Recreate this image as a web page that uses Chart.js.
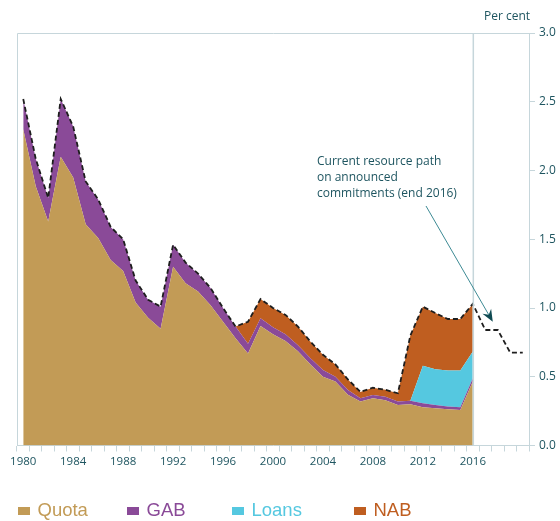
<!DOCTYPE html>
<html>
<head>
<meta charset="utf-8">
<script src="https://cdn.jsdelivr.net/npm/chart.js@4/dist/chart.umd.min.js"></script>
<style>
  body { margin: 0; background: #fff; }
  #wrap { position: relative; width: 560px; height: 521px; overflow: hidden; }
  #legend { position: absolute; left: 0; top: 498px; width: 560px; height: 23px;
            font-family: "Liberation Sans", Arial, sans-serif; font-size: 18.5px; }
  .item { position: absolute; top: 0; height: 23px; line-height: 23px; white-space: nowrap; }
  .box { position: absolute; left: 0; top: 9px; width: 12px; height: 8px; }
  .lbl { position: absolute; left: 19.5px; top: 0; }
</style>
</head>
<body>
<div id="wrap">
  <canvas id="resourceChart" width="560" height="521"></canvas>
  <div id="legend"></div>
</div>
<script>
// Years on the axis (the last four only carry the projected path)
const years = Array.from({ length: 41 }, (_, i) => String(1980 + i));
const xTickLabels = ['1980', '1984', '1988', '1992', '1996', '2000', '2004', '2008', '2012', '2016'];
const yTicks = [0, 0.5, 1, 1.5, 2, 2.5, 3];

// Resources, per cent of world GDP, 1980-2016 (stack layers)
const quota = [2.30, 1.885, 1.63, 2.10, 1.95, 1.61, 1.51, 1.35, 1.27, 1.04,
  0.93, 0.85, 1.30, 1.18, 1.12, 1.02, 0.90, 0.78, 0.67, 0.87,
  0.81, 0.76, 0.685, 0.59, 0.50, 0.465, 0.37, 0.32, 0.344, 0.33,
  0.295, 0.30, 0.278, 0.271, 0.264, 0.259, 0.465];
const gab = [0.22, 0.20, 0.17, 0.42, 0.37, 0.31, 0.28, 0.24, 0.23, 0.16,
  0.13, 0.16, 0.16, 0.15, 0.13, 0.125, 0.10, 0.085, 0.07, 0.055,
  0.05, 0.05, 0.045, 0.045, 0.05, 0.035, 0.034, 0.024, 0.024, 0.025,
  0.025, 0.026, 0.029, 0.024, 0.019, 0.019, 0.025];
const loans = [0, 0, 0, 0, 0, 0, 0, 0, 0, 0,
  0, 0, 0, 0, 0, 0, 0, 0, 0, 0,
  0, 0, 0, 0, 0, 0, 0, 0, 0, 0,
  0, 0, 0.273, 0.26, 0.262, 0.267, 0.193];
const nab = [0, 0, 0, 0, 0, 0, 0, 0, 0, 0,
  0, 0, 0, 0, 0, 0, 0, 0, 0.16, 0.14,
  0.14, 0.14, 0.135, 0.12, 0.11, 0.09, 0.076, 0.046, 0.052, 0.05,
  0.06, 0.474, 0.43, 0.408, 0.375, 0.375, 0.347];
// Path on announced commitments, 2017-2020
const projection = [0.84, 0.84, 0.675, 0.675];

const colors = { Quota: '#c29b56', GAB: '#8a4a98', Loans: '#55c8e0', NAB: '#bf5e20' };
const textColor = '#1e5560';
const lineColor = '#c6d6db';

// total resources line = top of the stack, then the projection
const total = quota.map((q, i) => q + gab[i] + loans[i] + nab[i]);
const path = total.concat(projection);

const area = (label, data, fill) => ({
  label, data, fill,
  backgroundColor: colors[label],
  borderWidth: 0,
  pointRadius: 0,
  tension: 0,
  order: 1
});

const framePlugin = {
  id: 'frame',
  beforeDatasetsDraw(chart) {
    const { ctx, chartArea: a } = chart;
    ctx.save();
    ctx.strokeStyle = lineColor;
    ctx.lineWidth = 1;
    ctx.beginPath();
    ctx.moveTo(a.left + 0.5, a.bottom);
    ctx.lineTo(a.left + 0.5, a.top + 0.5);
    ctx.lineTo(a.right, a.top + 0.5);
    ctx.stroke();
    ctx.restore();
  },
  afterDatasetsDraw(chart) {
    const { ctx, chartArea: a, scales } = chart;
    const x16 = scales.x.getPixelForValue(years.indexOf('2016'));
    ctx.save();
    ctx.strokeStyle = lineColor;
    ctx.lineWidth = 1.5;
    ctx.beginPath();
    ctx.moveTo(x16 + 0.5, a.top);
    ctx.lineTo(x16 + 0.5, a.bottom);
    ctx.stroke();
    ctx.restore();
  },
  afterDraw(chart) {
    const { ctx, chartArea: a, scales } = chart;
    ctx.save();
    ctx.fillStyle = textColor;
    ctx.font = '12px "Open Sans", sans-serif';
    ctx.textBaseline = 'middle';
    ctx.textAlign = 'center';
    ctx.fillText('Per cent', a.right - 22, 17);

    ctx.textAlign = 'left';
    ['Current resource path', 'on announced', 'commitments (end 2016)']
      .forEach((t, i) => ctx.fillText(t, 317, 162 + i * 15.8));

    // arrow to the projected path
    const tipX = scales.x.getPixelForValue(37.6);
    const tipY = scales.y.getPixelForValue(0.9);
    const fromX = 426, fromY = 206;
    const ang = Math.atan2(tipY - fromY, tipX - fromX);
    ctx.strokeStyle = '#3d8a94';
    ctx.lineWidth = 1;
    ctx.beginPath();
    ctx.moveTo(fromX, fromY);
    ctx.lineTo(tipX - 8 * Math.cos(ang), tipY - 8 * Math.sin(ang));
    ctx.stroke();
    ctx.fillStyle = '#0f4a52';
    ctx.beginPath();
    ctx.moveTo(tipX, tipY);
    ctx.lineTo(tipX - 12 * Math.cos(ang) + 5 * Math.sin(ang), tipY - 12 * Math.sin(ang) - 5 * Math.cos(ang));
    ctx.lineTo(tipX - 8 * Math.cos(ang), tipY - 8 * Math.sin(ang));
    ctx.lineTo(tipX - 12 * Math.cos(ang) - 5 * Math.sin(ang), tipY - 12 * Math.sin(ang) + 5 * Math.cos(ang));
    ctx.closePath();
    ctx.fill();
    ctx.restore();
  }
};

new Chart(document.getElementById('resourceChart'), {
  type: 'line',
  data: {
    labels: years,
    datasets: [
      area('Quota', quota, 'origin'),
      area('GAB', gab, '-1'),
      area('Loans', loans, '-1'),
      area('NAB', nab, '-1'),
      {
        label: 'Path',
        data: path,
        stack: 'path',
        fill: false,
        borderColor: '#1e1e1e',
        borderWidth: 1.8,
        borderDash: [5, 3],
        pointRadius: 0,
        tension: 0,
        order: 0
      }
    ]
  },
  options: {
    responsive: false,
    animation: false,
    devicePixelRatio: 1,
    layout: { padding: { left: 17, right: 0, top: 33, bottom: 49.5 } },
    plugins: {
      legend: { display: false },
      tooltip: { enabled: false }
    },
    scales: {
      x: {
        type: 'category',
        offset: true,
        grid: { offset: true, drawOnChartArea: false, tickLength: 6, color: lineColor },
        border: { color: lineColor },
        ticks: {
          autoSkip: false,
          maxRotation: 0,
          padding: 3,
          color: textColor,
          font: { family: 'Open Sans', size: 11.5 },
          callback: (v, i) => xTickLabels.includes(years[i]) ? years[i] : ''
        },
        afterFit: (axis) => { axis.height = 26; }
      },
      y: {
        position: 'right',
        stacked: true,
        min: 0,
        max: 3,
        afterBuildTicks: (axis) => { axis.ticks = yTicks.map(v => ({ value: v })); },
        grid: { drawOnChartArea: false, tickLength: 6, color: lineColor },
        border: { color: lineColor },
        ticks: {
          padding: 4,
          color: textColor,
          font: { family: 'Open Sans', size: 12 },
          callback: (v) => v.toFixed(1)
        },
        afterFit: (axis) => { axis.width = 31; }
      }
    }
  },
  plugins: [framePlugin]
});

// Legend below the chart
const legendPos = { Quota: 18, GAB: 127, Loans: 232, NAB: 354 };
const legend = document.getElementById('legend');
Object.keys(colors).forEach(name => {
  const item = document.createElement('div');
  item.className = 'item';
  item.style.left = legendPos[name] + 'px';
  item.innerHTML = '<span class="box" style="background:' + colors[name] + '"></span>' +
    '<span class="lbl" style="color:' + colors[name] + '">' + name + '</span>';
  legend.appendChild(item);
});
</script>
</body>
</html>
